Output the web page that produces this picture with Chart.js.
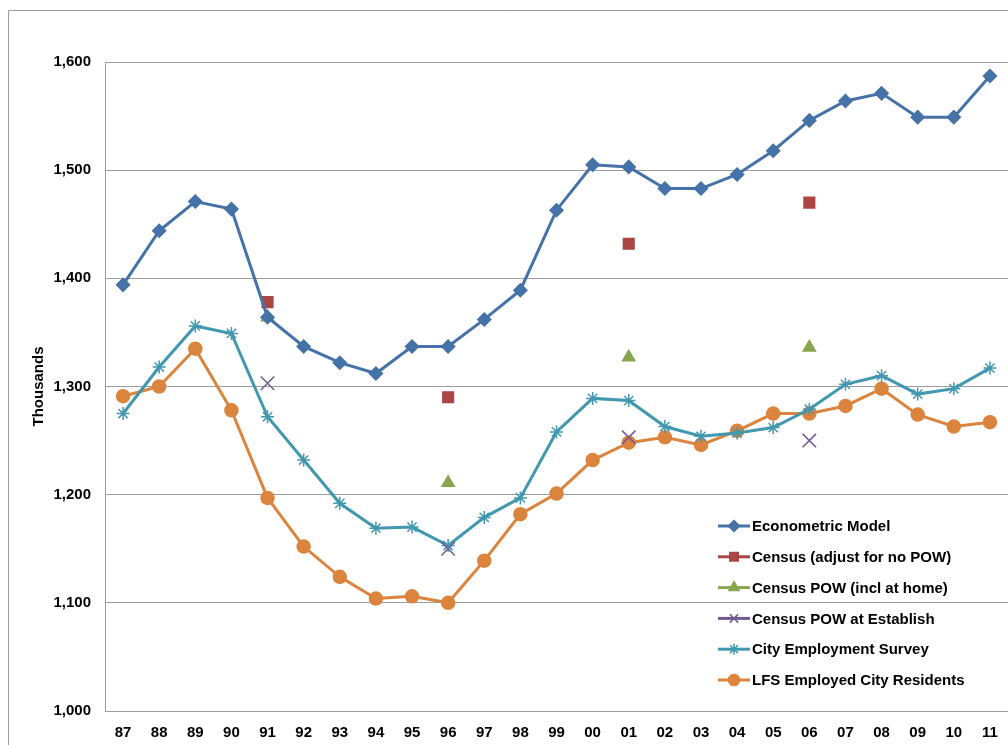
<!DOCTYPE html>
<html>
<head>
<meta charset="utf-8">
<script src="https://cdn.jsdelivr.net/npm/chart.js@4/dist/chart.umd.min.js"></script>
<style>
	html, body { margin: 0; padding: 0; background: #fff; overflow: hidden; }
	#wrap { width: 1008px; height: 745px; }
</style>
</head>
<body>
<div id="wrap"><canvas id="empChart" width="1008" height="745"></canvas></div>
<script>
// Data (thousands)
const years = ['87', '88', '89', '90', '91', '92', '93', '94', '95', '96', '97', '98', '99',
	'00', '01', '02', '03', '04', '05', '06', '07', '08', '09', '10', '11'];
const econometric = [1394, 1444, 1471, 1464, 1364, 1337, 1322, 1312, 1337, 1337, 1362, 1389, 1463,
	1505, 1503, 1483, 1483, 1496, 1518, 1546, 1564, 1571, 1549, 1549, 1587];
const censusAdjust = [null, null, null, null, 1378, null, null, null, null, 1290, null, null, null,
	null, 1432, null, null, null, null, 1470, null, null, null, null, null];
const censusPowHome = [null, null, null, null, 1364, null, null, null, null, 1211, null, null, null,
	null, 1327, null, null, null, null, 1336, null, null, null, null, null];
const censusPowEst = [null, null, null, null, 1303, null, null, null, null, 1150, null, null, null,
	null, 1253, null, null, null, null, 1250, null, null, null, null, null];
const citySurvey = [1275, 1318, 1356, 1349, 1272, 1232, 1192, 1169, 1170, 1153, 1179, 1197, 1258,
	1289, 1287, 1263, 1254, 1257, 1262, 1279, 1302, 1310, 1293, 1298, 1317];
const lfsResidents = [1291, 1300, 1335, 1278, 1197, 1152, 1124, 1104, 1106, 1100, 1139, 1182, 1201,
	1232, 1248, 1253, 1246, 1259, 1275, 1275, 1282, 1298, 1274, 1263, 1267];
const yTicks = [1000, 1100, 1200, 1300, 1400, 1500, 1600];

const FONT = "'Liberation Sans', Arial, sans-serif";
const GRID = '#9c9c9c';

function lineSet(label, data, color, style, radius) {
	return {
		label: label, data: data,
		borderColor: color, backgroundColor: color,
		borderWidth: 3, tension: 0,
		pointStyle: style, pointRadius: radius, pointHoverRadius: radius,
		pointBackgroundColor: color, pointBorderColor: color, pointBorderWidth: 1.5
	};
}

function markerSet(label, data, color, style, radius) {
	var ds = lineSet(label, data, color, style, radius);
	ds.showLine = false;
	return ds;
}

const datasets = [
	lineSet('Econometric Model', econometric, '#4572A7', 'rectRot', 6.5),
	markerSet('Census (adjust for no POW)', censusAdjust, '#AA4643', 'rect', 7.5),
	markerSet('Census POW (incl at home)', censusPowHome, '#89A54E', 'triangle', 7),
	markerSet('Census POW at Establish', censusPowEst, '#71588F', 'crossRot', 9.5),
	lineSet('City Employment Survey', citySurvey, '#4198AF', 'star', 6.5),
	lineSet('LFS Employed City Residents', lfsResidents, '#DB843D', 'circle', 6.5)
];

// outer chart frame like the spreadsheet chart border
const framePlugin = {
	id: 'frame',
	beforeDraw(chart) {
		const ctx = chart.ctx;
		ctx.save();
		ctx.strokeStyle = '#9a9a9a';
		ctx.lineWidth = 1;
		ctx.beginPath();
		ctx.moveTo(8.5, 745);
		ctx.lineTo(8.5, 10.5);
		ctx.lineTo(1008, 10.5);
		ctx.stroke();
		ctx.restore();
	}
};

// legend drawn inside the plot, line sample plus marker
const legendPlugin = {
	id: 'innerLegend',
	afterDraw(chart) {
		const ctx = chart.ctx;
		const x0 = 718, x1 = 750, tx = 752;
		ctx.save();
		chart.data.datasets.forEach((ds, i) => {
			const y = 526 + i * 30.8;
			ctx.strokeStyle = ds.borderColor;
			ctx.lineWidth = 3;
			ctx.beginPath();
			ctx.moveTo(x0, y);
			ctx.lineTo(x1, y);
			ctx.stroke();
			ctx.fillStyle = ds.pointBackgroundColor;
			ctx.strokeStyle = ds.pointBorderColor;
			ctx.lineWidth = ds.pointBorderWidth;
			Chart.helpers.drawPoint(ctx, {
				pointStyle: ds.pointStyle, radius: Math.min(ds.pointRadius, 7) * 0.85,
				rotation: 0, borderWidth: ds.pointBorderWidth
			}, (x0 + x1) / 2, y);
			ctx.fillStyle = '#000';
			ctx.font = 'bold 15px ' + FONT;
			ctx.textAlign = 'left';
			ctx.textBaseline = 'middle';
			ctx.fillText(ds.label, tx, y + 1);
		});
		ctx.restore();
	}
};

new Chart(document.getElementById('empChart').getContext('2d'), {
	type: 'line',
	data: { labels: years, datasets: datasets },
	plugins: [framePlugin, legendPlugin],
	options: {
		responsive: false,
		animation: false,
		devicePixelRatio: 1,
		layout: { autoPadding: false, padding: { top: 62, left: 0, right: 0, bottom: 0 } },
		plugins: {
			legend: { display: false },
			tooltip: { enabled: false }
		},
		scales: {
			x: {
				offset: true,
				grid: { display: false, drawTicks: false },
				border: { display: true, color: GRID, width: 1 },
				ticks: {
					color: '#000', padding: 13, maxRotation: 0, autoSkip: false,
					font: { family: FONT, size: 15, weight: 'bold' }
				},
				afterFit: s => {
					s.height = 34;
					s.paddingLeft = 0;
					s.paddingRight = 0;
				}
			},
			y: {
				min: 1000, max: 1600,
				afterBuildTicks: s => { s.ticks = yTicks.map(v => ({ value: v })); },
				grid: { color: GRID, lineWidth: 1, drawTicks: false },
				border: { display: true, color: GRID, width: 1 },
				ticks: {
					color: '#000', padding: 14,
					font: { family: FONT, size: 15, weight: 'bold' },
					callback: v => v.toLocaleString('en-US')
				},
				title: {
					display: true, text: 'Thousands', color: '#000',
					padding: { top: 30, bottom: 0 },
					font: { family: FONT, size: 15, weight: 'bold' }
				},
				afterFit: s => { s.width = 105; }
			}
		}
	}
});
</script>
</body>
</html>
